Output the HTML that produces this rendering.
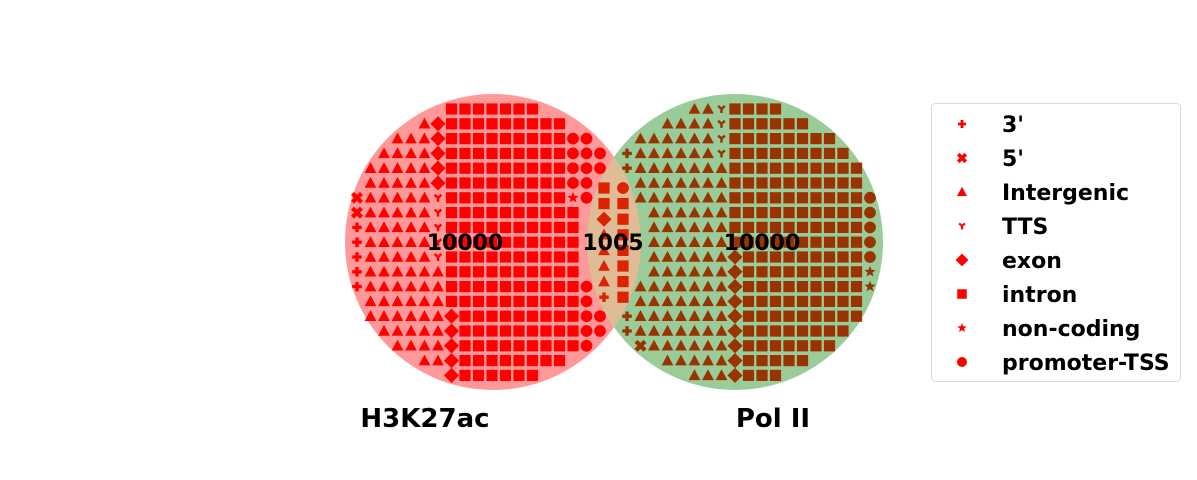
<!DOCTYPE html>
<html><head><meta charset="utf-8">
<style>
html,body{margin:0;padding:0;background:#fff;}
svg{display:block;font-family:"DejaVu Sans","Liberation Sans",sans-serif;font-weight:bold;}
</style></head>
<body>
<svg id="chart" width="1197" height="480" viewBox="0 0 1197 480">
<defs>
<clipPath id="clipL"><circle cx="493" cy="242" r="148"/></clipPath>
</defs>
<g id="circles">
<circle cx="493" cy="242" r="148" fill="#ff9999"/>
<circle cx="735" cy="242" r="148" fill="#99cc99"/>
<circle cx="735" cy="242" r="148" fill="#dfbb96" clip-path="url(#clipL)"/>
</g>
<g id="marks"></g>
<g id="labels"></g>
<g id="legend">
<rect x="931.5" y="103.5" width="249" height="278" rx="4" fill="#fff" stroke="#d9d9d9"/>
</g>
</svg>
<script>
// Row strings per region: P=3', X=5', T=Intergenic, Y=TTS, D=exon, S=intron, *=non-coding, O=promoter-TSS
const leftRows = [
".......SSSSSSS.....",
".....TDSSSSSSSSS...",
"...TTTDSSSSSSSSSOO.",
"..TTTTDSSSSSSSSSOOO",
".TTTTTDSSSSSSSSSOOO",
".TTTTTDSSSSSSSSSOO.",
"XTTTTTYSSSSSSSSS*O.",
"XTTTTTYSSSSSSSSSS..",
"PTTTTTYSSSSSSSSSS..",
"PTTTTTYSSSSSSSSSS..",
"PTTTTTYSSSSSSSSSS..",
"PTTTTTTSSSSSSSSSS..",
"PTTTTTTSSSSSSSSSSO.",
".TTTTTTSSSSSSSSSSO.",
".TTTTTTDSSSSSSSSSOO",
"..TTTTTDSSSSSSSSSOO",
"...TTTTDSSSSSSSSSO.",
".....TTDSSSSSSSS...",
".......DSSSSSS....."
];
const overlapRows = ["SO","SS","DS","TS","TS","TS","TS","PS"];
const rightRows = [
".....TTYSSSS.......",
"...TTTTYSSSSSS.....",
".TTTTTTYSSSSSSSS...",
"PTTTTTTYSSSSSSSSS..",
"PTTTTTTTSSSSSSSSSS.",
".TTTTTTTSSSSSSSSSS.",
".TTTTTTTSSSSSSSSSSO",
"..TTTTTTSSSSSSSSSSO",
"..TTTTTTSSSSSSSSSSO",
"..TTTTTTSSSSSSSSSSO",
"..TTTTTTDSSSSSSSSSO",
"..TTTTTTDSSSSSSSSS*",
".TTTTTTTDSSSSSSSSS*",
".TTTTTTTDSSSSSSSSS.",
"PTTTTTTTDSSSSSSSSS.",
"PTTTTTTTDSSSSSSSS..",
".XTTTTTTDSSSSSSS...",
"...TTTTTDSSSSS.....",
".....TTTDSSS......."
];
const regionCounts = ["10000","1005","10000"];
const setNames = ["H3K27ac","Pol II"];
const legendCodes = ["P","X","T","Y","D","S","*","O"];
const legendLabels = ["3'","5'","Intergenic","TTS","exon","intron","non-coding","promoter-TSS"];
const typeNames = {P:"3prime",X:"5prime",T:"intergenic",Y:"tts",D:"exon",S:"intron","*":"noncoding",O:"promoter-tss"};

const NS="http://www.w3.org/2000/svg";
function marker(code,x,y,s,color){
  let el; const h=s/2;
  if(code==="S"){el=document.createElementNS(NS,"rect");el.setAttribute("x",x-h);el.setAttribute("y",y-h);el.setAttribute("width",s);el.setAttribute("height",s);el.setAttribute("fill",color);}
  else if(code==="O"){el=document.createElementNS(NS,"circle");el.setAttribute("cx",x);el.setAttribute("cy",y);el.setAttribute("r",h*1.05);el.setAttribute("fill",color);}
  else if(code==="T"){el=document.createElementNS(NS,"polygon");el.setAttribute("points",`${x},${y-h*1.1} ${x+h*1.05},${y+h*0.85} ${x-h*1.05},${y+h*0.85}`);el.setAttribute("fill",color);}
  else if(code==="D"){el=document.createElementNS(NS,"polygon");const d=h*1.35;el.setAttribute("points",`${x},${y-d} ${x+d},${y} ${x},${y+d} ${x-d},${y}`);el.setAttribute("fill",color);}
  else if(code==="P"){el=document.createElementNS(NS,"path");const a=h*0.85,w=h*0.3;el.setAttribute("d",`M${x-a},${y-w}H${x-w}V${y-a}H${x+w}V${y-w}H${x+a}V${y+w}H${x+w}V${y+a}H${x-w}V${y+w}H${x-a}Z`);el.setAttribute("fill",color);}
  else if(code==="X"){el=document.createElementNS(NS,"path");const a=h*0.8;el.setAttribute("d",`M${x-a},${y-a}L${x+a},${y+a}M${x+a},${y-a}L${x-a},${y+a}`);el.setAttribute("stroke",color);el.setAttribute("stroke-width",s*0.38);}
  else if(code==="Y"){el=document.createElementNS(NS,"path");const a=h*0.6;el.setAttribute("d",`M${x},${y}V${y+a*1.2}M${x},${y}L${x-a},${y-a*0.9}M${x},${y}L${x+a},${y-a*0.9}`);el.setAttribute("stroke",color);el.setAttribute("stroke-width",s*0.22);el.setAttribute("fill","none");}
  else if(code==="*"){el=document.createElementNS(NS,"polygon");let p=[];for(let i=0;i<10;i++){const r=i%2?h*0.45:h*1.05;const ang=-Math.PI/2+i*Math.PI/5;p.push((x+r*Math.cos(ang)).toFixed(2)+","+(y+r*Math.sin(ang)).toFixed(2));}el.setAttribute("points",p.join(" "));el.setAttribute("fill",color);}
  return el;
}
const marks=document.getElementById("marks");
function drawGrid(rows,x0,dx,y0,dy,color,region){
  const g=document.createElementNS(NS,"g");
  
  
  rows.forEach((row,r)=>{[...row].forEach((c,i)=>{
    if(c===".")return;
    const el=marker(c,x0+i*dx,y0+r*dy,11.2,color);
    
    
    g.appendChild(el);
  });});
  marks.appendChild(g);
}
drawGrid(leftRows,357,13.5,109,14.8,"#ff0000","h3k27ac-only");
drawGrid(overlapRows,604,19,188,15.6,"#dd2200","overlap");
drawGrid(rightRows,627,13.5,109,14.8,"#993300","pol2-only");

const labels=document.getElementById("labels");
const countPos=[[465,242],[613,242],[762,242]];
regionCounts.forEach((t,i)=>{
  const tx=document.createElementNS(NS,"text");
  tx.setAttribute("x",countPos[i][0]);tx.setAttribute("y",countPos[i][1]+8);
  tx.setAttribute("text-anchor","middle");tx.setAttribute("font-size","22");tx.setAttribute("fill","#000");
  tx.textContent=t;
  
  
  labels.appendChild(tx);
});
const namePos=[[425,418],[773,418]];
setNames.forEach((t,i)=>{
  const tx=document.createElementNS(NS,"text");
  tx.setAttribute("x",namePos[i][0]);tx.setAttribute("y",namePos[i][1]+9);
  tx.setAttribute("text-anchor","middle");tx.setAttribute("font-size","26");tx.setAttribute("fill","#000");
  tx.textContent=t;
  
  
  labels.appendChild(tx);
});
const legend=document.getElementById("legend");
legendCodes.forEach((c,i)=>{
  const y=124+i*34;
  const m=marker(c,962,y,9.5,"#ff0000");
  
  
  legend.appendChild(m);
  const tx=document.createElementNS(NS,"text");
  tx.setAttribute("x",1002);tx.setAttribute("y",y+8);tx.setAttribute("font-size","22");tx.setAttribute("fill","#000");
  tx.textContent=legendLabels[i];
  
  
  legend.appendChild(tx);
});
</script>
</body></html>
